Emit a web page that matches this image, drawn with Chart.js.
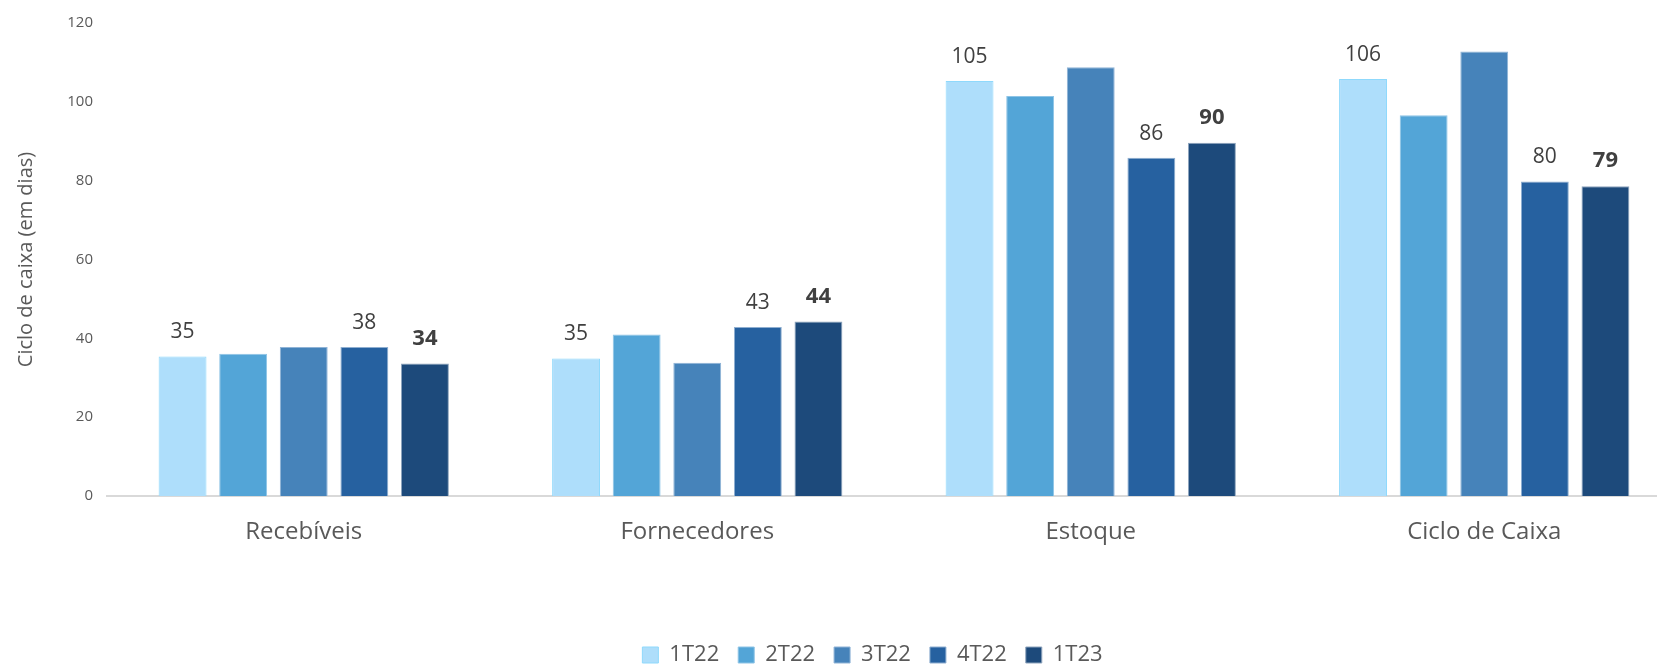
<!DOCTYPE html>
<html>
<head>
<meta charset="utf-8">
<script src="https://cdn.jsdelivr.net/npm/chart.js@4"></script>
<style>
  html, body { margin: 0; padding: 0; background: #fff; overflow: hidden; }
  #wrap { width: 1741px; height: 664px; }
</style>
</head>
<body>
<div id="wrap"><canvas id="cashChart"></canvas></div>
<script>
var categories = ["Recebíveis", "Fornecedores", "Estoque", "Ciclo de Caixa"];
var quarters = ["1T22", "2T22", "3T22", "4T22", "1T23"];
var q1t22 = [35.4, 34.9, 105.3, 105.8];
var q2t22 = [36.1, 41.0, 101.5, 96.6];
var q3t22 = [37.8, 33.8, 108.8, 112.8];
var q4t22 = [37.8, 42.9, 85.8, 79.8];
var q1t23 = [33.6, 44.3, 89.6, 78.6];
var yTicks = [0, 20, 40, 60, 80, 100, 120];

var fills = ['#aedefb', '#53a5d7', '#4683ba', '#2661a0', '#1d4a7b'];
var borders = ['#8fd9fc', '#8ec4e6', '#8fb3d6', '#8eaed0', '#8ea4bd'];
// only these series get value labels; the last one in bold
var labelled = { 0: 'normal', 3: 'normal', 4: 'bold' };

var FONT = "'Open Sans', Lato, sans-serif";

var valueLabels = {
    id: 'valueLabels',
    afterDatasetsDraw: function (chart) {
        var ctx = chart.ctx;
        ctx.save();
        ctx.textAlign = 'center';
        ctx.textBaseline = 'middle';
        chart.data.datasets.forEach(function (ds, i) {
            if (!labelled[i]) return;
            var meta = chart.getDatasetMeta(i);
            var bold = labelled[i] === 'bold';
            ctx.font = bold ? 'bold 22px ' + FONT : '21px ' + FONT;
            ctx.fillStyle = '#404040';
            meta.data.forEach(function (bar, j) {
                ctx.fillText(String(Math.round(ds.data[j])), bar.x, bar.y - (bold ? 25 : 24));
            });
        });
        ctx.restore();
    }
};

// legend sits a little right of the plot centre in the original
var legendShift = {
    id: 'legendShift',
    afterLayout: function (chart) {
        chart.legend.left += 27;
        chart.legend.right += 27;
    }
};

var series = [q1t22, q2t22, q3t22, q4t22, q1t23];
var datasets = series.map(function (vals, i) {
    return {
        label: quarters[i],
        data: vals,
        backgroundColor: fills[i],
        borderColor: borders[i],
        borderWidth: 1,
        categoryPercentage: 0.77,
        barPercentage: 0.79
    };
});

var ctx = document.getElementById('cashChart');
var cashChart = new Chart(ctx, {
    type: 'bar',
    data: { labels: categories, datasets: datasets },
    options: {
        responsive: true,
        maintainAspectRatio: false,
        animation: false,
        layout: { padding: { left: 10, right: 60, top: 20, bottom: -12 } },
        plugins: {
            tooltip: { enabled: false },
            legend: {
                position: 'bottom',
                labels: {
                    boxWidth: 16,
                    boxHeight: 16,
                    padding: 19,
                    color: '#595959',
                    font: { family: FONT, size: 22 }
                }
            }
        },
        scales: {
            x: {
                grid: { display: false, drawTicks: false },
                border: { display: true, color: '#d9d9d9', width: 2 },
                ticks: { color: '#595959', padding: 22, font: { family: FONT, size: 24 } },
                afterFit: function (scale) { scale.height = 129; }
            },
            y: {
                min: 0,
                max: 120,
                afterBuildTicks: function (scale) {
                    scale.ticks = yTicks.map(function (v) { return { value: v }; });
                },
                grid: { display: false, drawTicks: false },
                border: { display: false },
                ticks: { color: '#595959', padding: 14, font: { family: FONT, size: 15 } },
                title: {
                    display: true,
                    text: 'Ciclo de caixa (em dias)',
                    color: '#595959',
                    padding: { top: 4, bottom: 0 },
                    font: { family: FONT, size: 20 }
                },
                afterFit: function (scale) { scale.width = 97; }
            }
        }
    },
    plugins: [valueLabels, legendShift]
});
</script>
</body>
</html>
